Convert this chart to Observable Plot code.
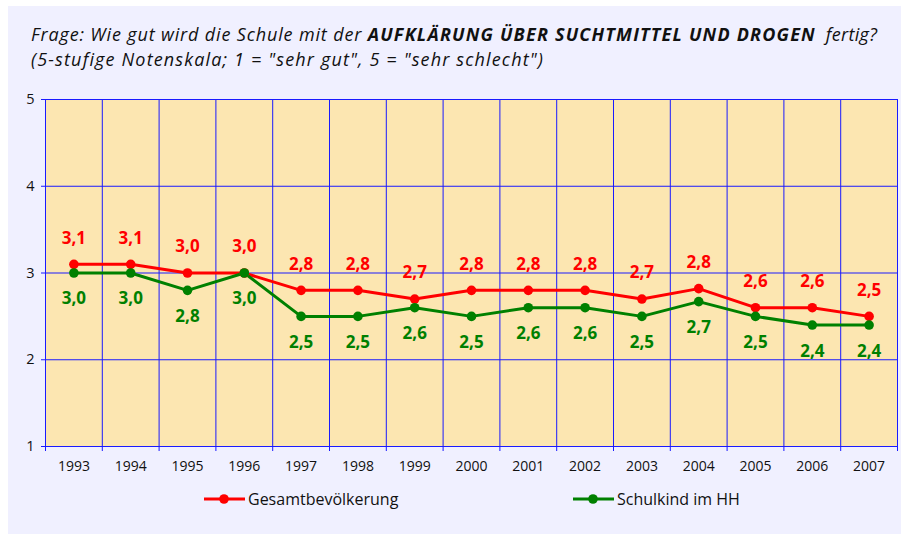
<!DOCTYPE html>
<html>
<head>
<meta charset="utf-8">
<script src="https://cdn.jsdelivr.net/npm/d3@7"></script>
<script src="https://cdn.jsdelivr.net/npm/@observablehq/plot@0.6"></script>
<style>
  html, body { margin: 0; padding: 0; background: #ffffff; }
  #page { position: relative; width: 901px; height: 534px; overflow: hidden; background: #ffffff; font-family: "Open Sans", sans-serif; }
  #panel { position: absolute; left: 8px; top: 6px; width: 893px; height: 528px; background: #F0F0FF; }
  #title { position: absolute; left: 31px; top: 22px; color: #111; font-style: italic; white-space: nowrap; line-height: 25px; font-size: 18px; }
  #reg { letter-spacing: 0.85px; }
  #title b { font-weight: 700; letter-spacing: 1.2px; }
  #fert { letter-spacing: 0.3px; }
  #t2 { letter-spacing: 1.15px; }
  #chart { position: absolute; left: 0; top: 80px; }
  .leg { position: absolute; top: 489px; height: 20px; display: flex; align-items: center; font-size: 16px; color: #111; }
  .leg svg { margin-right: 3px; }
</style>
</head>
<body>
<div id="page">
  <div id="panel"></div>
  <div id="title"><span id="t1"><span id="reg">Frage: Wie gut wird die Schule mit der </span><b>AUFKLÄRUNG ÜBER SUCHTMITTEL UND DROGEN</b><span id="fert">&nbsp; fertig?</span></span><br><span id="t2">(5-stufige Notenskala; 1 = "sehr gut", 5 = "sehr schlecht")</span></div>
  <div id="chart"></div>
  <div class="leg" id="leg1" style="left:204px;"></div>
  <div class="leg" id="leg2" style="left:573px;"></div>
</div>
<script>
// ---- data ----
const years = [1993, 1994, 1995, 1996, 1997, 1998, 1999, 2000, 2001, 2002, 2003, 2004, 2005, 2006, 2007];
const gesamt = [3.1, 3.1, 3.0, 3.0, 2.8, 2.8, 2.7, 2.8, 2.8, 2.8, 2.7, 2.82, 2.6, 2.6, 2.5];
const schulkind = [3.0, 3.0, 2.8, 3.0, 2.5, 2.5, 2.6, 2.5, 2.6, 2.6, 2.5, 2.67, 2.5, 2.4, 2.4];
const yTicks = [1, 2, 3, 4, 5];
const seriesNames = ["Gesamtbevölkerung", "Schulkind im HH"];

const RED = "#ff0000", GREEN = "#008000", BLUE = "#1a1aff";
const fmt = v => v.toFixed(1).replace(".", ",");

const rowsG = years.map((y, i) => ({year: y, value: gesamt[i]}));
const rowsS = years.map((y, i) => ({year: y, value: schulkind[i]}));
const bounds = years.map(y => y - 0.5).concat([years[years.length - 1] + 0.5]);
const inner = bounds.slice(1, -1);

const chart = Plot.plot({
  width: 901,
  height: 406,
  marginLeft: 45,
  marginRight: 4,
  marginTop: 19,
  marginBottom: 40,
  style: {fontFamily: "Open Sans", fontSize: "14px", background: "transparent", color: "#111"},
  x: {type: "linear", domain: [bounds[0], bounds[bounds.length - 1]], axis: null, label: null},
  y: {domain: [1, 5], axis: null, label: null},
  marks: [
    Plot.frame({fill: "#FCE6B1", stroke: null}),
    Plot.ruleX(inner, {stroke: BLUE, strokeWidth: 1}),
    Plot.ruleY(yTicks.slice(1, -1), {stroke: BLUE, strokeWidth: 1}),
    Plot.frame({stroke: BLUE, strokeWidth: 1}),
    Plot.axisX({ticks: bounds, tickSize: 5, stroke: BLUE, tickFormat: () => "", label: null}),
    Plot.axisX({ticks: years, tickSize: 0, tickPadding: 15, tickFormat: d => String(d), fill: "#111", fontSize: 14, label: null}),
    Plot.axisY({ticks: yTicks, tickSize: 4, tickPadding: 7, stroke: BLUE, fill: "#111", tickFormat: d => String(d), fontSize: 14.5, label: null}),
    Plot.line(rowsG, {x: "year", y: "value", stroke: RED, strokeWidth: 3}),
    Plot.line(rowsS, {x: "year", y: "value", stroke: GREEN, strokeWidth: 3}),
    Plot.dot(rowsG, {x: "year", y: "value", fill: RED, r: 4.8}),
    Plot.dot(rowsS, {x: "year", y: "value", fill: GREEN, r: 4.8}),
    Plot.text(rowsG, {x: "year", y: "value", text: d => fmt(d.value), dy: -26, fill: RED, fontWeight: "bold", fontSize: 17, letterSpacing: "0.5px"}),
    Plot.text(rowsS, {x: "year", y: "value", text: d => fmt(d.value), dy: 26, fill: GREEN, fontWeight: "bold", fontSize: 17, letterSpacing: "0.5px"})
  ]
});
document.getElementById("chart").appendChild(chart);

function swatch(color) {
  return `<svg width="41" height="12"><line x1="0" y1="6" x2="41" y2="6" stroke="${color}" stroke-width="3"/><circle cx="20" cy="6" r="4.8" fill="${color}"/></svg>`;
}
document.getElementById("leg1").innerHTML = swatch(RED) + `<span>${seriesNames[0]}</span>`;
document.getElementById("leg2").innerHTML = swatch(GREEN) + `<span>${seriesNames[1]}</span>`;
</script>
</body>
</html>
